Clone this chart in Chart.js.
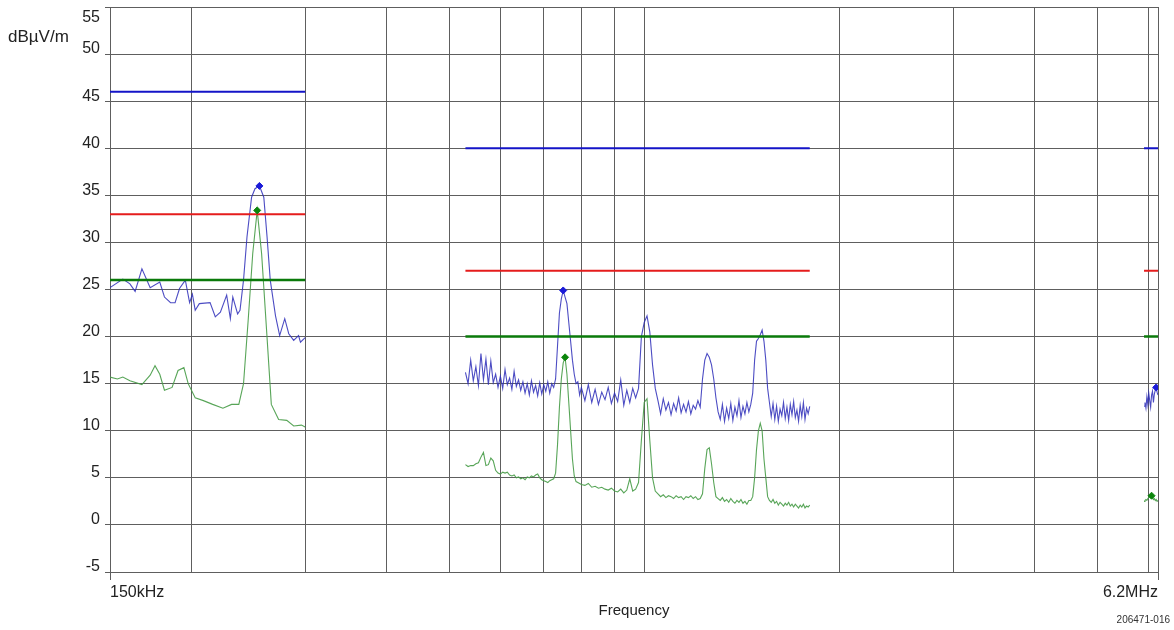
<!DOCTYPE html>
<html>
<head>
<meta charset="utf-8">
<script src="https://cdn.jsdelivr.net/npm/chart.js@4.4.1/dist/chart.umd.min.js"></script>
<style>
  html, body { margin: 0; padding: 0; background: #fff; }
  #wrap { width: 1174px; height: 630px; position: relative; }
</style>
</head>
<body>
<div id="wrap"><canvas id="emiChart" width="1174" height="630"></canvas></div>
<script>
// x grid (kHz) and its labels
const xGridFreqs = [150, 200, 300, 400, 500, 600, 700, 800, 900, 1000, 2000, 3000, 4000, 5000, 6000, 6200];
const xTickLabels = ['150kHz', '', '', '', '', '', '', '', '', '', '', '', '', '', '', '6.2MHz'];
const unitLabel = 'dBµV/m';
const figureId = '206471-016';

// limit bands (kHz) and limits (dBµV/m)
const bandStart = [150, 530, 5900];
const bandEnd = [300, 1800, 6200];
const peakLimit = [46, 40, 40];
const qpLimit = [33, 27, 27];
const avgLimit = [26, 20, 20];

// band 1 (150 - 300 kHz)
const band1PeakFreq = [150, 157, 161, 164, 168, 173, 179, 182, 186, 189, 192, 196, 199, 201, 203, 206, 214, 218, 222, 227,
  230, 232, 236, 238, 241, 244, 248, 251, 255, 259, 262, 265, 270, 274, 279, 283, 288, 293, 295, 300];
const band1Peak = [25.2, 26.1, 25.6, 24.8, 27.2, 25.2, 25.8, 24.2, 23.6, 23.6, 25.1, 26.0, 23.6, 24.5, 22.8, 23.5, 23.6, 22.1, 22.6, 24.4,
  21.9, 24.2, 22.4, 22.8, 26.0, 30.6, 34.8, 35.7, 36.0, 34.8, 30.6, 26.0, 22.2, 20.1, 21.9, 20.3, 19.6, 20.1, 19.4, 19.9];
const band1AvgFreq = [150, 154, 157, 161, 168, 173, 176, 179, 182, 187, 191, 195, 198, 203, 209, 216, 224, 231, 237, 241,
  245, 249, 253, 257, 262, 266, 273, 281, 288, 296, 300];
const band1Avg = [15.7, 15.5, 15.7, 15.3, 14.9, 15.9, 16.9, 16.0, 14.3, 14.6, 16.4, 16.7, 15.0, 13.5, 13.2, 12.8, 12.4, 12.8, 12.8, 15.0,
  21.7, 28.8, 33.4, 28.8, 19.9, 12.8, 11.2, 11.1, 10.5, 10.6, 10.4];

// band 2 (530 - 1800 kHz)
const band2Freq = [
  530, 535, 540, 545, 550, 555, 560, 565, 570, 575,
  580, 585, 590, 595, 600, 605, 610, 615, 620, 625,
  630, 635, 640, 645, 650, 655, 660, 665, 670, 675,
  680, 685, 690, 695, 700, 705, 710, 715, 720, 725,
  730, 735, 740, 745, 750, 755, 760, 765, 770, 775,
  780, 785, 790, 795, 800, 810, 820, 830, 840, 850,
  860, 870, 880, 890, 900, 910, 920, 930, 940, 950,
  960, 970, 980, 990, 1000, 1010, 1020, 1030, 1040, 1050,
  1060, 1070, 1080, 1090, 1100, 1110, 1120, 1130, 1140, 1150,
  1160, 1170, 1180, 1190, 1200, 1210, 1220, 1230, 1240, 1250,
  1260, 1270, 1280, 1290, 1300, 1310, 1320, 1330, 1340, 1350,
  1360, 1370, 1380, 1390, 1400, 1410, 1420, 1430, 1440, 1450,
  1460, 1470, 1480, 1490, 1500, 1510, 1520, 1530, 1540, 1550,
  1560, 1570, 1580, 1590, 1600, 1610, 1620, 1630, 1640, 1650,
  1660, 1670, 1680, 1690, 1700, 1710, 1720, 1730, 1740, 1750,
  1760, 1770, 1780, 1790, 1800];
const band2Peak = [
  16.2, 15.0, 17.5, 15.3, 16.8, 14.8, 18.2, 15.4, 17.6, 14.9,
  17.4, 15.1, 16.0, 14.6, 15.8, 14.5, 16.5, 14.9, 15.6, 14.4,
  16.3, 14.7, 15.4, 14.3, 15.2, 14.0, 15.0, 13.8, 15.3, 14.1,
  14.8, 13.7, 15.1, 13.9, 14.9, 14.2, 15.2, 14.0, 15.0, 14.6,
  15.5, 19.0, 22.5, 24.0, 24.9, 24.2, 23.5, 21.5, 19.5, 17.5,
  16.0, 15.0, 15.2, 13.8, 14.6, 13.2, 14.9, 13.0, 14.4, 12.8,
  14.1, 13.3, 14.6, 12.9, 14.0, 13.1, 15.4, 12.7, 14.3, 13.0,
  14.5, 13.5, 14.5, 20.0, 21.5, 22.2, 20.5, 17.0, 14.5, 13.2,
  11.8, 13.4, 12.2, 13.0, 11.7, 12.9, 12.1, 13.5, 11.9, 12.8,
  12.0, 13.1, 11.8, 12.7, 12.3, 13.2, 12.5, 15.5, 17.5, 18.2,
  17.8, 17.0, 15.5, 13.5, 12.0, 11.2, 12.8, 11.0, 12.4, 11.3,
  12.9, 11.1, 12.5, 11.6, 13.2, 11.4, 12.6, 11.8, 13.0, 12.0,
  12.8, 14.0, 17.5, 19.5, 19.8, 20.2, 20.7, 19.5, 17.5, 14.5,
  13.0, 11.5, 12.9, 11.2, 12.6, 11.0, 12.3, 11.6, 13.0, 11.3,
  12.5, 11.1, 12.8, 11.7, 13.1, 11.4, 12.2, 11.0, 12.7, 11.5,
  13.0, 11.2, 12.4, 11.8, 12.6];
const band2Avg = [
  6.4, 6.2, 6.3, 6.3, 6.5, 6.6, 7.2, 7.7, 6.3, 6.4,
  7.1, 6.8, 5.8, 5.5, 5.4, 5.6, 5.5, 5.6, 5.3, 5.2,
  5.3, 5.0, 5.1, 4.9, 5.0, 4.8, 5.1, 5.0, 5.2, 5.1,
  5.3, 5.4, 5.0, 4.8, 4.7, 4.6, 4.5, 4.7, 4.8, 4.9,
  5.5, 8.5, 12.5, 15.5, 17.2, 17.8, 16.0, 13.0, 10.0, 7.0,
  5.2, 4.6, 4.5, 4.4, 4.3, 4.2, 4.4, 4.0, 4.1, 3.9,
  4.0, 3.8, 3.7, 3.9, 3.6, 3.5, 3.8, 3.4, 3.7, 4.9,
  3.6, 3.8, 4.5, 9.0, 13.0, 13.4, 9.0, 5.0, 3.6, 3.3,
  3.0, 3.2, 2.9, 3.1, 3.0, 2.8, 3.1, 2.9, 3.0, 2.7,
  3.0, 2.9, 3.1, 2.8, 3.0, 2.7, 2.8, 3.3, 6.0, 8.0,
  8.2, 6.5, 4.5, 3.0, 2.8, 2.6, 2.9, 2.5, 2.7, 2.4,
  2.8, 2.5, 2.3, 2.6, 2.4, 2.7, 2.3, 2.5, 2.2, 2.6,
  2.6, 3.0, 5.0, 8.0, 10.0, 10.8, 10.0, 7.0, 5.0, 3.0,
  2.6, 2.4, 2.7, 2.3, 2.5, 2.1, 2.4, 2.2, 2.0, 2.3,
  2.1, 2.4, 2.0, 2.2, 1.9, 2.2, 2.0, 1.8, 2.1, 1.9,
  2.2, 1.8, 2.0, 1.9, 2.1];

// band 3 (5.9 - 6.2 MHz)
const band3Freq = [5900, 5920, 5940, 5960, 5980, 6000, 6020, 6040, 6060, 6080, 6100, 6120, 6140, 6160, 6180, 6200];
const band3Peak = [12.6, 13.0, 12.4, 13.6, 12.8, 14.0, 13.2, 12.5, 13.8, 14.2, 13.0, 13.9, 14.3, 14.6, 14.1, 13.8];
const band3Avg = [2.5, 2.6, 2.7, 2.6, 2.8, 2.9, 3.0, 2.9, 3.1, 2.9, 2.7, 2.8, 2.6, 2.7, 2.5, 2.6];

// peak markers
const peakMarkerFreq = [255, 750, 6160];
const peakMarkerLevel = [36.0, 24.9, 14.6];
const avgMarkerFreq = [253, 755, 6060];
const avgMarkerLevel = [33.4, 17.8, 3.1];

const FONT = '"Liberation Sans", Arial, sans-serif';
const gridColor = '#5e5e5e';
const textColor = '#222';

// bands joined into one line, with null gaps between them
function joinBands(parts) {
  const out = [];
  parts.forEach(([fs, vs], i) => {
    if (i > 0) out.push({ x: fs[0], y: null });
    fs.forEach((f, j) => out.push({ x: f, y: vs[j] }));
  });
  return out;
}

function limitLine(levels) {
  return joinBands(bandStart.map((s, i) => [[s, bandEnd[i]], [levels[i], levels[i]]]));
}

function points(fs, vs) {
  return fs.map((f, i) => ({ x: f, y: vs[i] }));
}

const extraText = {
  id: 'extraText',
  afterDraw(chart) {
    const c = chart.ctx;
    const yScale = chart.scales.y;
    c.save();
    c.fillStyle = textColor;
    c.textBaseline = 'middle';
    c.font = '17px ' + FONT;
    c.textAlign = 'left';
    c.fillText(unitLabel, 8, 37);
    // top tick label sits below its line
    c.font = '16px ' + FONT;
    c.textAlign = 'right';
    c.fillText('55', yScale.right - 10, yScale.getPixelForValue(55) + 11);
    c.font = '10px ' + FONT;
    c.fillStyle = '#333';
    c.fillText(figureId, 1170, 620);
    c.restore();
  }
};

const ctx = document.getElementById('emiChart').getContext('2d');
new Chart(ctx, {
  type: 'scatter',
  data: {
    datasets: [
      {
        data: points(peakMarkerFreq, peakMarkerLevel),
        pointStyle: 'rectRot', pointRadius: 3.5,
        backgroundColor: '#1a1ad8', borderColor: '#1a1ad8', showLine: false
      },
      {
        data: points(avgMarkerFreq, avgMarkerLevel),
        pointStyle: 'rectRot', pointRadius: 3.5,
        backgroundColor: '#0b850b', borderColor: '#0b850b', showLine: false
      },
      { data: limitLine(peakLimit), borderColor: '#1414c8', borderWidth: 2, showLine: true, pointRadius: 0, spanGaps: false },
      { data: limitLine(qpLimit), borderColor: '#e51c1c', borderWidth: 2, showLine: true, pointRadius: 0, spanGaps: false },
      { data: limitLine(avgLimit), borderColor: '#0a7a0a', borderWidth: 2.5, showLine: true, pointRadius: 0, spanGaps: false },
      {
        data: joinBands([[band1PeakFreq, band1Peak], [band2Freq, band2Peak], [band3Freq, band3Peak]]),
        borderColor: 'rgba(45,45,185,0.85)', borderWidth: 1.1, showLine: true, pointRadius: 0, spanGaps: false
      },
      {
        data: joinBands([[band1AvgFreq, band1Avg], [band2Freq, band2Avg], [band3Freq, band3Avg]]),
        borderColor: 'rgba(70,155,70,0.9)', borderWidth: 1.1, showLine: true, pointRadius: 0, spanGaps: false
      }
    ]
  },
  options: {
    responsive: false,
    animation: false,
    layout: { padding: { top: 7, right: 16, bottom: 0, left: 0 } },
    plugins: {
      legend: { display: false },
      tooltip: { enabled: false }
    },
    scales: {
      x: {
        type: 'logarithmic',
        min: 150,
        max: 6200,
        afterBuildTicks: s => { s.ticks = xGridFreqs.map(v => ({ value: v })); },
        afterFit: s => { s.height = 58; s.paddingLeft = 0; s.paddingRight = 0; },
        grid: {
          color: gridColor,
          lineWidth: 1,
          tickLength: 8,
          tickColor: c => (c.index === 0 || c.index === xGridFreqs.length - 1) ? gridColor : 'rgba(0,0,0,0)'
        },
        border: { display: false },
        ticks: {
          autoSkip: false,
          maxRotation: 0,
          minRotation: 0,
          align: 'inner',
          padding: 3,
          color: textColor,
          font: { family: FONT, size: 16 },
          callback: (v, i) => xTickLabels[i]
        },
        title: {
          display: true,
          text: 'Frequency',
          color: textColor,
          font: { family: FONT, size: 15 },
          padding: { top: 0, bottom: 10 }
        }
      },
      y: {
        min: -5,
        max: 55,
        afterFit: s => { s.width = 110; s.paddingTop = 0; s.paddingBottom = 0; },
        grid: { color: gridColor, lineWidth: 1, tickLength: 5, tickColor: gridColor },
        border: { display: false },
        ticks: {
          stepSize: 5,
          padding: 5,
          labelOffset: -5,
          color: textColor,
          font: { family: FONT, size: 16 },
          callback: v => (v === 55 ? '' : v)
        }
      }
    }
  },
  plugins: [extraText]
});
</script>
</body>
</html>
